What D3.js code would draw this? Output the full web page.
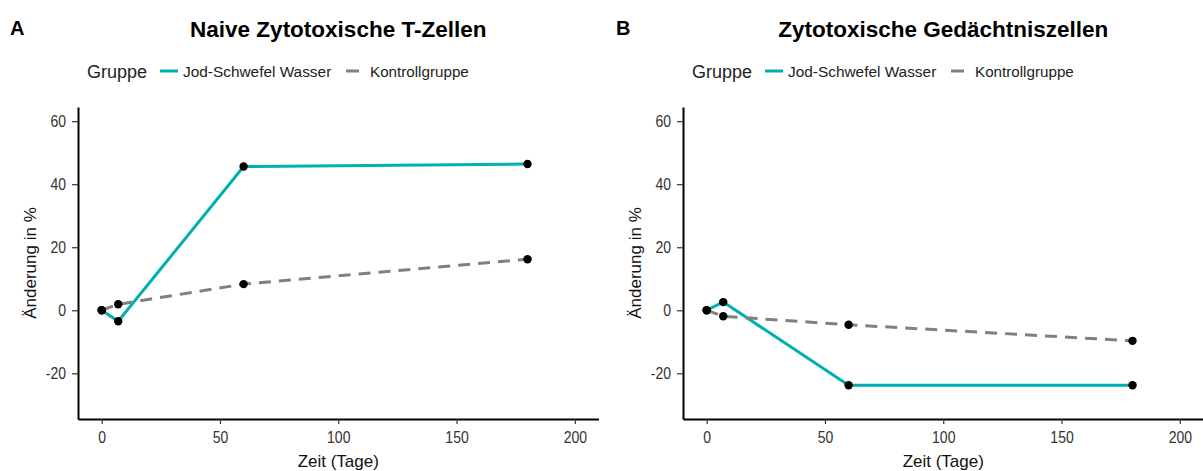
<!DOCTYPE html>
<html>
<head>
<meta charset="utf-8">
<script src="https://cdn.jsdelivr.net/npm/d3@7"></script>
<style>
  body { margin: 0; background: #fff; }
  svg { display: block; }
  text { font-family: "Liberation Sans", Arial, sans-serif; }
</style>
</head>
<body>
<svg id="chart" width="1203" height="471"></svg>
<script>
// Measurement days and percent change per group
const days = [0, 7, 60, 180];
const naiveJod = [0, -3.5, 45.6, 46.4];
const naiveKontrolle = [0, 1.9, 8.3, 16.2];
const memoryJod = [0, 2.6, -23.8, -23.8];
const memoryKontrolle = [0, -1.9, -4.6, -9.7];

const panelTitles = ["Naive Zytotoxische T-Zellen", "Zytotoxische Gedächtniszellen"];
const panelLetters = ["A", "B"];
const groupNames = ["Jod-Schwefel Wasser", "Kontrollgruppe"];
const legendTitle = "Gruppe";
const xTitle = "Zeit (Tage)";
const yTitle = "Änderung in %";
const xTicks = [0, 50, 100, 150, 200];
const yTicks = [-20, 0, 20, 40, 60];

const teal = "#00B0B0";
const grey = "#808080";
const stretch = 1.15; // tick labels are slightly tall

const svg = d3.select("#chart");

const panels = [
  { left: 78, right: 598.5, letterX: 10, jod: naiveJod, ktr: naiveKontrolle, title: panelTitles[0], letter: panelLetters[0] },
  { left: 683, right: 1203.5, letterX: 616, jod: memoryJod, ktr: memoryKontrolle, title: panelTitles[1], letter: panelLetters[1] }
];

const plotTop = 107, plotBottom = 419;
const y = d3.scaleLinear().domain([-34.5, 64.5]).range([plotBottom, plotTop]);
const plain = d => String(d);

panels.forEach(p => {
  const g = svg.append("g");
  const x = d3.scaleLinear().domain([-10, 210]).range([p.left, p.right]);
  const mid = (p.left + p.right) / 2;

  // panel letter and title
  g.append("text").attr("x", p.letterX).attr("y", 35)
    .attr("font-size", 20).attr("font-weight", "bold").text(p.letter);
  g.append("text").attr("x", mid).attr("y", 37).attr("text-anchor", "middle")
    .attr("font-size", 22.5).attr("font-weight", "bold").text(p.title);

  // legend
  const lg = g.append("g");
  const lx = p.left;
  lg.append("text").attr("x", lx + 9).attr("y", 78).attr("font-size", 18).attr("fill", "#222").text(legendTitle);
  lg.append("line").attr("x1", lx + 82).attr("x2", lx + 100).attr("y1", 71).attr("y2", 71)
    .attr("stroke", teal).attr("stroke-width", 3);
  lg.append("text").attr("x", lx + 105).attr("y", 77).attr("font-size", 15.4).attr("fill", "#222").text(groupNames[0]);
  lg.append("line").attr("x1", lx + 268).attr("x2", lx + 286).attr("y1", 71).attr("y2", 71)
    .attr("stroke", grey).attr("stroke-width", 3).attr("stroke-dasharray", "13,8");
  lg.append("text").attr("x", lx + 292).attr("y", 77).attr("font-size", 15.2).attr("fill", "#222").text(groupNames[1]);

  // axes
  const xAxis = g.append("g").attr("transform", `translate(0,${plotBottom})`)
    .call(d3.axisBottom(x).tickValues(xTicks).tickFormat(plain).tickSize(5).tickSizeOuter(0));
  const yAxis = g.append("g").attr("transform", `translate(${p.left},0)`)
    .call(d3.axisLeft(y).tickValues(yTicks).tickFormat(plain).tickSize(6).tickSizeOuter(0).tickPadding(6));
  [xAxis, yAxis].forEach(a => {
    a.select(".domain").attr("stroke", "#000").attr("stroke-width", 2);
    a.selectAll(".tick line").attr("stroke", "#333").attr("stroke-width", 1.2);
    a.selectAll(".tick text").attr("font-size", 14).attr("fill", "#333")
      .attr("font-family", '"Liberation Sans", Arial, sans-serif')
      .attr("transform", `scale(1,${stretch})`);
  });
  xAxis.selectAll(".tick text").attr("y", 24.3 / stretch - 0.71 * 14);

  // axis titles
  g.append("text").attr("x", mid).attr("y", 467).attr("text-anchor", "middle")
    .attr("font-size", 17).attr("fill", "#111").text(xTitle);
  g.append("text").attr("transform", `translate(${p.left - 42},${(plotTop + plotBottom) / 2}) rotate(-90)`)
    .attr("text-anchor", "middle").attr("font-size", 17).attr("fill", "#111").text(yTitle);

  const line = d3.line().x((d, i) => x(days[i])).y(d => y(d));

  g.append("path").datum(p.jod).attr("d", line).attr("fill", "none")
    .attr("stroke", teal).attr("stroke-width", 3);
  g.append("path").datum(p.ktr).attr("d", line).attr("fill", "none")
    .attr("stroke", grey).attr("stroke-width", 3).attr("stroke-dasharray", "12,8");

  [p.jod, p.ktr].forEach(series => {
    g.selectAll(null).data(series).enter().append("circle")
      .attr("cx", (d, i) => x(days[i])).attr("cy", d => y(d)).attr("r", 4.2).attr("fill", "#000");
  });
});
</script>
</body>
</html>
